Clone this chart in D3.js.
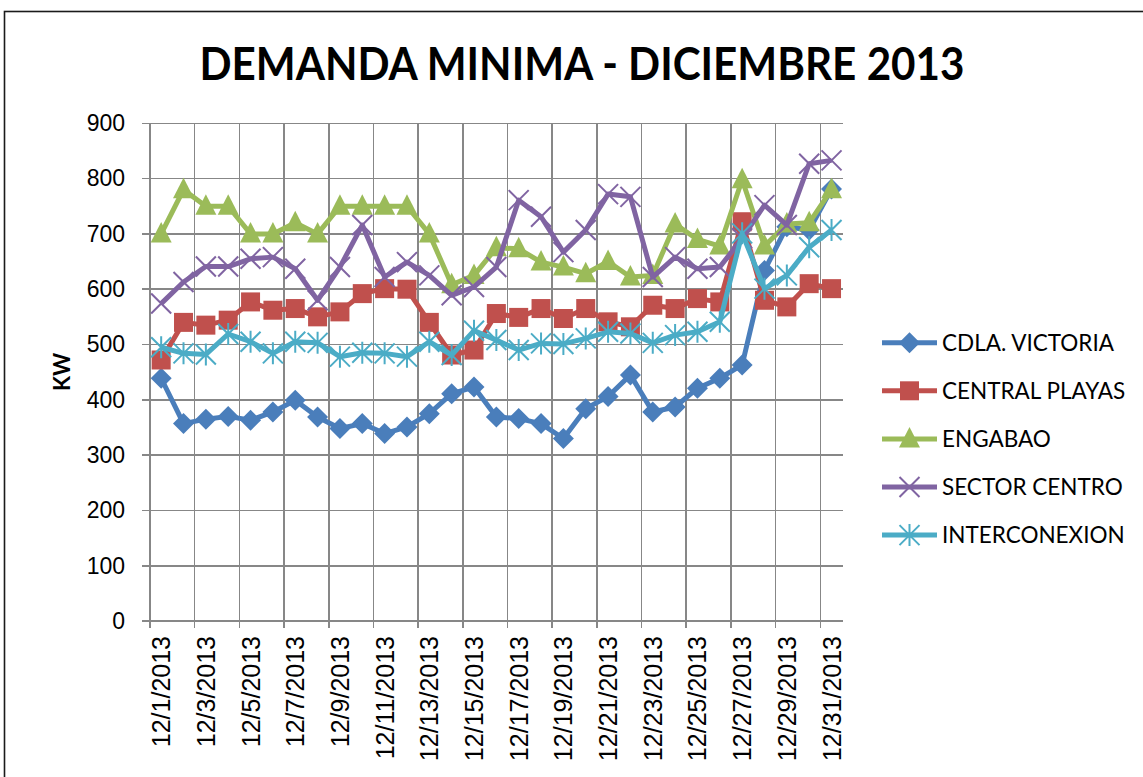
<!DOCTYPE html>
<html lang="es">
<head>
<meta charset="UTF-8">
<title>Demanda minima - Diciembre 2013</title>
<script src="https://cdn.jsdelivr.net/npm/d3@7"></script>
<style>
    html, body { margin: 0; padding: 0; background: #fff; }
    svg { display: block; font-family: Lato, "Liberation Sans", sans-serif; }
    .grid line { stroke: #878787; stroke-width: 1.6; shape-rendering: crispEdges; }
    .axis path { display: none; }
    .axis line { display: none; }
    .axis text { font-size: 23px; fill: #000; }
    .axis.x text { font-size: 25px; }
    .legend text { font-size: 22.5px; fill: #000; }
</style>
</head>
<body>
<svg id="chart" width="1143" height="777"></svg>
<script>
    // days of December 2013 (category axis)
    var days = d3.range(1, 32).map(d => "12/" + d + "/2013");
    var yTicks = [0, 100, 200, 300, 400, 500, 600, 700, 800, 900];

    var seriesNames = ["CDLA. VICTORIA", "CENTRAL PLAYAS", "ENGABAO", "SECTOR CENTRO", "INTERCONEXION"];
    var seriesColors = ["#4a7ebb", "#c0504d", "#9bbb59", "#8064a2", "#4bacc6"];
    var seriesMarkers = ["diamond", "square", "triangle", "cross", "star"];

    var cdlaVictoria = [439, 357, 365, 370, 363, 378, 399, 369, 348, 357, 339, 351, 375, 411, 423, 369, 366, 357, 330, 384, 406,
        445, 378, 387, 421, 439, 463, 634, 713, 707, 781];
    var centralPlayas = [472, 540, 535, 544, 577, 562, 565, 550, 559, 592, 601, 600, 540, 481, 490, 556, 549, 565, 547, 565, 541,
        532, 571, 565, 583, 577, 722, 580, 568, 610, 601];
    var engabao = [700, 780, 750, 750, 700, 700, 720, 700, 750, 750, 750, 750, 700, 608, 625, 675, 673, 649, 640, 628, 650,
        622, 625, 718, 690, 678, 798, 678, 718, 720, 780];
    var sectorCentro = [574, 613, 641, 641, 655, 658, 637, 580, 640, 716, 622, 649, 625, 589, 604, 640, 761, 731, 667, 707, 772,
        767, 622, 658, 637, 640, 692, 752, 716, 827, 833];
    var interconexion = [495, 484, 482, 519, 505, 484, 505, 503, 478, 485, 484, 478, 505, 481, 525, 508, 490, 502, 501, 511, 523,
        520, 503, 517, 523, 541, 701, 601, 625, 676, 707];

    var seriesValues = [cdlaVictoria, centralPlayas, engabao, sectorCentro, interconexion];

    var svg = d3.select("#chart"),
        plot = {left: 150, right: 842.7, top: 123.3, bottom: 621};

    var x = d3.scaleBand().domain(days).range([plot.left, plot.right]).paddingInner(0).paddingOuter(0);
    var y = d3.scaleLinear().domain([0, 900]).range([plot.bottom, plot.top]);
    var cx = d => x(d) + x.bandwidth() / 2;

    // chart frame
    svg.append("rect")
        .attr("x", 4.5).attr("y", 11.5)
        .attr("width", 1300).attr("height", 900)
        .attr("fill", "none").attr("stroke", "#1a1a1a").attr("stroke-width", 1.6);

    svg.append("text")
        .attr("x", 582).attr("y", 80)
        .attr("text-anchor", "middle")
        .attr("font-size", 45).attr("font-weight", "bold")
        .attr("textLength", 765).attr("lengthAdjust", "spacingAndGlyphs")
        .text("DEMANDA MINIMA - DICIEMBRE 2013");

    // grid
    var grid = svg.append("g").attr("class", "grid");
    grid.selectAll(".h").data(yTicks).enter().append("line")
        .attr("x1", plot.left - 8).attr("x2", plot.right)
        .attr("y1", d => y(d)).attr("y2", d => y(d));
    var gridDays = days.filter((d, i) => i % 2 === 0);
    grid.selectAll(".v").data(gridDays).enter().append("line")
        .attr("x1", d => x(d)).attr("x2", d => x(d))
        .attr("y1", plot.top).attr("y2", plot.bottom + 7);

    // axes
    svg.append("g")
        .attr("class", "axis y")
        .attr("transform", "translate(" + (plot.left - 25) + ",0)")
        .call(d3.axisLeft(y).tickValues(yTicks).tickSize(0).tickPadding(0));

    var xAxis = svg.append("g")
        .attr("class", "axis x")
        .attr("transform", "translate(0," + plot.bottom + ")")
        .call(d3.axisBottom(x).tickValues(gridDays).tickSize(0).tickPadding(0));
    xAxis.selectAll("text")
        .attr("text-anchor", "end")
        .attr("x", 0).attr("y", 0)
        .attr("dx", "-15").attr("dy", "0.36em")
        .attr("transform", "rotate(-90)");

    svg.append("text")
        .attr("transform", "translate(62,372) rotate(-90)")
        .attr("text-anchor", "middle")
        .attr("dy", "0.36em")
        .attr("font-size", 22).attr("font-weight", "bold")
        .text("KW");

    // marker shapes
    function marker(sel, type, color) {
        if (type === "diamond") {
            sel.append("path").attr("d", "M0,-10.5L10.5,0L0,10.5L-10.5,0Z").attr("fill", color);
        } else if (type === "square") {
            sel.append("rect").attr("x", -9.5).attr("y", -9.5).attr("width", 19).attr("height", 19).attr("fill", color);
        } else if (type === "triangle") {
            sel.append("path").attr("d", "M0,-12L10.5,8.5L-10.5,8.5Z").attr("fill", color);
        } else if (type === "cross") {
            sel.append("path").attr("d", "M-10,-10L10,10M10,-10L-10,10")
                .attr("stroke", color).attr("stroke-width", 2).attr("fill", "none");
        } else if (type === "star") {
            sel.append("path").attr("d", "M-10,-10L10,10M10,-10L-10,10M0,-11L0,11")
                .attr("stroke", color).attr("stroke-width", 2).attr("fill", "none");
        }
    }

    var line = d3.line()
        .x((d, i) => cx(days[i]))
        .y(d => y(d));

    seriesValues.forEach(function (vals, s) {
        var g = svg.append("g");
        g.append("path")
            .attr("d", line(vals))
            .attr("fill", "none")
            .attr("stroke", seriesColors[s])
            .attr("stroke-width", 5)
            .attr("stroke-linejoin", "round");
        g.selectAll("g.m").data(vals).enter().append("g")
            .attr("transform", (d, i) => "translate(" + cx(days[i]) + "," + y(d) + ")")
            .each(function () { marker(d3.select(this), seriesMarkers[s], seriesColors[s]); });
    });

    // legend
    var legend = svg.append("g").attr("class", "legend")
        .selectAll("g").data(seriesNames).enter().append("g")
        .attr("transform", (d, i) => "translate(0," + (342.7 + i * 48.1) + ")");
    legend.append("line")
        .attr("x1", 882).attr("x2", 937)
        .attr("stroke", (d, i) => seriesColors[i]).attr("stroke-width", 5);
    legend.append("g")
        .attr("transform", "translate(909.5,0)")
        .each(function (d, i) { marker(d3.select(this), seriesMarkers[i], seriesColors[i]); });
    legend.append("text")
        .attr("x", 942).attr("dy", "0.36em")
        .text(d => d);
</script>
</body>
</html>
